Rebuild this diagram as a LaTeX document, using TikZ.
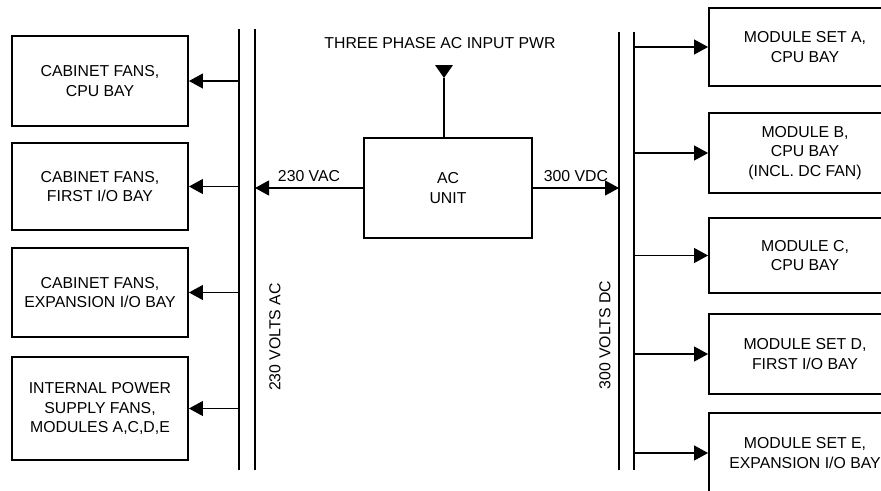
\documentclass[tikz,border=0pt]{standalone}
\usepackage{fontspec}
\setmainfont{Liberation Sans}
\usetikzlibrary{arrows.meta}

\begin{document}
\begin{tikzpicture}[x=0.02cm, y=-0.02cm, >={Triangle[length=0.28cm, width=0.3cm]},
  font=\fontsize{9}{11.3}\selectfont,
  box/.style={draw, line width=1.1pt, align=center, inner sep=0pt},
  feed/.style={->, line width=0.6pt},
  bus/.style={line width=1.1pt}]

\clip (0,0) rectangle (881,490);

% --- Sbarre 230 V AC e 300 V DC ---
\coordinate (acin) at (239,29);
\coordinate (acinbot) at (239,470);
\coordinate (acout) at (255,29);
\coordinate (acoutbot) at (255,470);
\coordinate (dcin) at (619,32);
\coordinate (dcinbot) at (619,470);
\coordinate (dcout) at (634,32);
\coordinate (dcoutbot) at (634,470);
\draw[bus] (acin) -- (acinbot);
\draw[bus] (acout) -- (acoutbot);
\draw[bus] (dcin) -- (dcinbot);
\draw[bus] (dcout) -- (dcoutbot);
\node[rotate=90] (aclabel) at (275,337) {230 VOLTS AC};
\node[rotate=90] (dclabel) at (605,335) {300 VOLTS DC};

% --- Unita' AC e ingresso trifase ---
\node[box, minimum width=3.36cm, minimum height=2cm] (ac) at (448,188) {AC\\UNIT};
\node (pwrlabel) at (440,43) {THREE PHASE AC INPUT PWR};
\coordinate (pwr) at (444,78);
\draw[line width=0.6pt] (pwr) -- (pwr |- ac.north);
\fill (pwr) -- ++(-9,-13) -- ++(18,0) -- cycle;
\draw[feed] (ac.west) -- (ac.west -| acout) node[midway, above] {230 VAC};
\draw[feed] (ac.east) -- (ac.east -| dcin) node[midway, above] {300 VDC};

% --- Ventole (lato AC) ---
\foreach \n/\y/\h/\txt in {fan1/81/1.8cm/{CABINET FANS,\\CPU BAY},
    fan2/186.5/1.74cm/{CABINET FANS,\\FIRST I/O BAY},
    fan3/292.5/1.78cm/{CABINET FANS,\\EXPANSION I/O BAY},
    fan4/408.5/2.06cm/{INTERNAL POWER\\SUPPLY FANS,\\MODULES A,C,D,E}}{
  \node[box, minimum width=3.52cm, minimum height=\h] (\n) at (100,\y) {\txt};
  \draw[feed] (\n.east -| acin) -- (\n.east);
}

% --- Moduli (lato DC) ---
\foreach \n/\y/\h/\txt in {modA/47/1.56cm/{MODULE SET A,\\CPU BAY},
    modB/153/1.6cm/{MODULE B,\\CPU BAY\\(INCL. DC FAN)},
    modC/255.5/1.5cm/{MODULE C,\\CPU BAY},
    modD/354/1.6cm/{MODULE SET D,\\FIRST I/O BAY},
    modE/453/1.6cm/{MODULE SET E,\\EXPANSION I/O BAY}}{
  \node[box, minimum width=3.84cm, minimum height=\h] (\n) at (805,\y) {\txt};
  \draw[feed] (\n.west -| dcout) -- (\n.west);
}

\end{tikzpicture}
\end{document}
